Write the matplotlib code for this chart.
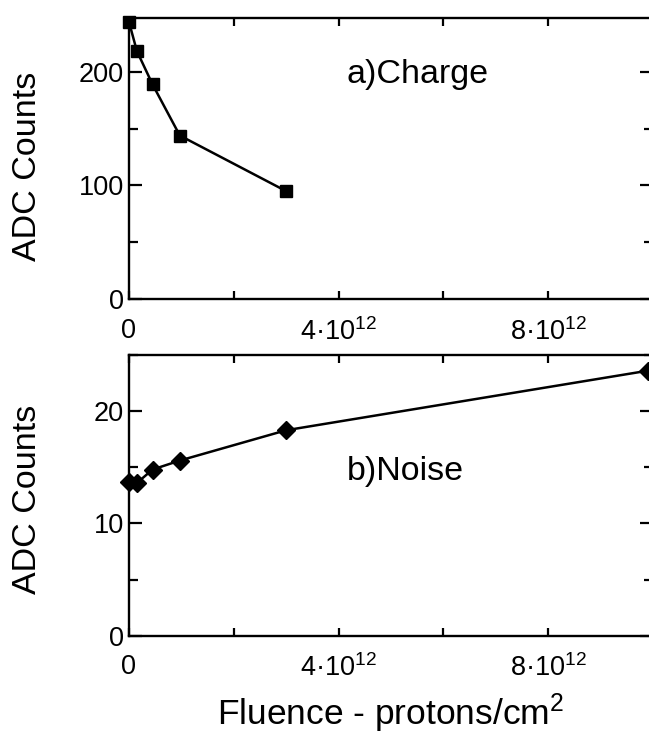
import matplotlib
matplotlib.use('Agg')
import matplotlib.pyplot as plt
from matplotlib.ticker import FixedLocator, MultipleLocator, FixedFormatter

plt.rcParams['font.family'] = ['Liberation Sans', 'DejaVu Sans']
plt.rcParams['mathtext.fontset'] = 'custom'
plt.rcParams['mathtext.rm'] = 'Liberation Sans'
plt.rcParams['mathtext.it'] = 'Liberation Sans:italic'
plt.rcParams['mathtext.bf'] = 'Liberation Sans:bold'

# ---- data ----
fluence_charge = [0.0, 0.15e12, 0.45e12, 0.97e12, 3.0e12]
charge = [244, 218.5, 189, 144, 95]
fluence_noise = [0.0, 0.15e12, 0.45e12, 0.97e12, 3.0e12, 9.9e12]
noise = [13.7, 13.6, 14.8, 15.6, 18.3, 23.6]

x_ticks = [0, 2e12, 4e12, 6e12, 8e12, 10e12]
x_ticklabels = ['0', '', '4·10$^{12}$', '', '8·10$^{12}$', '']
charge_yticks = [0, 100, 200]
noise_yticks = [0, 10, 20]

panel_a_label = 'a)Charge'
panel_b_label = 'b)Noise'
y_label = 'ADC Counts'
x_label = 'Fluence - protons/cm$^{2}$'

W, H = 649, 737
fig = plt.figure(figsize=(W / 100, H / 100), dpi=100)

left = 129 / W
width = (653 - 129) / W
ax1 = fig.add_axes([left, (H - 299) / H, width, 281.5 / H])
ax2 = fig.add_axes([left, (H - 635.7) / H, width, 280.7 / H])

tick_fs = 19.5
lab_fs = 24.5

def style(ax, yticks, yminor):
    for s in ax.spines.values():
        s.set_linewidth(1.7)
    ax.set_xlim(0, 1e13)
    ax.xaxis.set_major_locator(FixedLocator(x_ticks))
    ax.xaxis.set_major_formatter(FixedFormatter(x_ticklabels))
    ax.yaxis.set_major_locator(FixedLocator(yticks))
    ax.yaxis.set_minor_locator(MultipleLocator(yminor))
    ax.tick_params(axis='both', which='both', direction='in', top=True, right=True,
                   width=1.6, colors='black', labelsize=tick_fs)
    ax.tick_params(axis='x', which='major', length=5.8, pad=13.5)
    ax.tick_params(axis='y', which='major', length=9.4, pad=3.5)
    ax.tick_params(axis='y', which='minor', length=6.5)
    ax.set_ylabel(y_label, fontsize=lab_fs, va='center')

ax1.plot(fluence_charge, charge, color='black', lw=1.8, marker='s', ms=8.8,
         clip_on=False, zorder=3)
style(ax1, charge_yticks, 50)
ax1.set_ylim(0, 248)
ax1.yaxis.set_label_coords(-0.194, 0.47)
ax1.text(0.416, 0.766, panel_a_label, transform=ax1.transAxes, fontsize=lab_fs,
         ha='left', va='baseline')

ax2.plot(fluence_noise, noise, color='black', lw=1.8, marker='D', ms=8.7,
         clip_on=False, zorder=3)
style(ax2, noise_yticks, 5)
ax2.set_ylim(0, 25)
ax2.yaxis.set_label_coords(-0.194, 0.487)
ax2.text(0.416, 0.555, panel_b_label, transform=ax2.transAxes, fontsize=lab_fs,
         ha='left', va='baseline')
ax2.set_xlabel(x_label, fontsize=25.5, labelpad=7)

fig.savefig('out.png', dpi=100)
